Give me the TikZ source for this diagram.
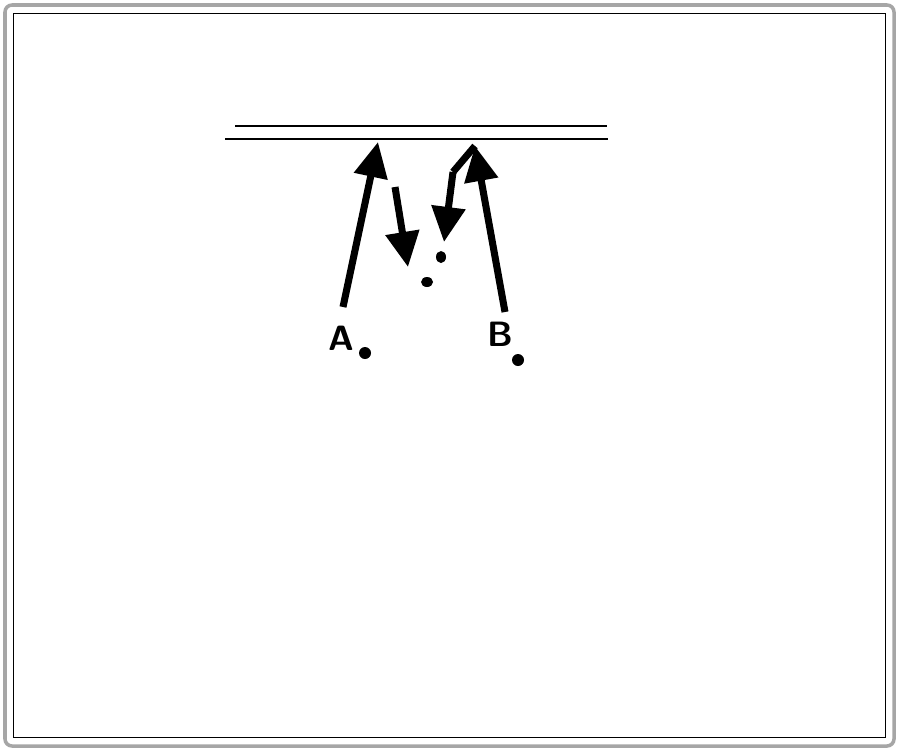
\documentclass[tikz,border=0pt]{standalone}
\usepackage{tikz}
\usetikzlibrary{arrows.meta}

\tikzset{
  ray/.style={line width=6pt, -{Triangle[length=30pt, width=28pt]}},
  mirrorline/.style={line width=1.2pt},
  lbl/.style={font=\fontsize{30}{30}\sffamily\bfseries}
}

\begin{document}
\begin{tikzpicture}[x=0.03cm, y=-0.03cm]
\useasboundingbox (0,0) rectangle (900,752);
% frame
\draw[line width=3pt, gray!70, rounded corners=6pt] (5,5) rectangle (894,746);
\draw[line width=0.8pt] (13,13) rectangle (885,737);
% mirror
\coordinate (m1) at (235,126);
\coordinate (m2) at (607,126);
\coordinate (m3) at (225,139);
\coordinate (m4) at (608,139);
\draw[mirrorline, line width=1.6pt] (m1)--(m2);
\draw[mirrorline] (m3)--(m4);
% points
\coordinate (a) at (343,307);
\coordinate (p) at (378,142);
\coordinate (q) at (395,187);
\coordinate (r) at (408,267);
\coordinate (b) at (505,312);
\coordinate (s) at (475,146);
\coordinate (t) at (453,172);
\coordinate (u) at (444,242);
% rays
\draw[ray] (a)--(p);
\draw[ray] (q)--(r);
\draw[ray] (b)--(s);
\draw[line width=6pt] (s)--(t);
\draw[ray] (t)--(u);
\fill[black] (427,282) ellipse (6 and 5);
\fill[black] (441,257) ellipse (5 and 6);
% labels
\node[lbl] (la) at (341,338) {A};
\node[lbl] (lb) at (500,334) {B};
\fill[black] (365,353) circle (6);
\fill[black] (518,360) circle (6);
\end{tikzpicture}
\end{document}
